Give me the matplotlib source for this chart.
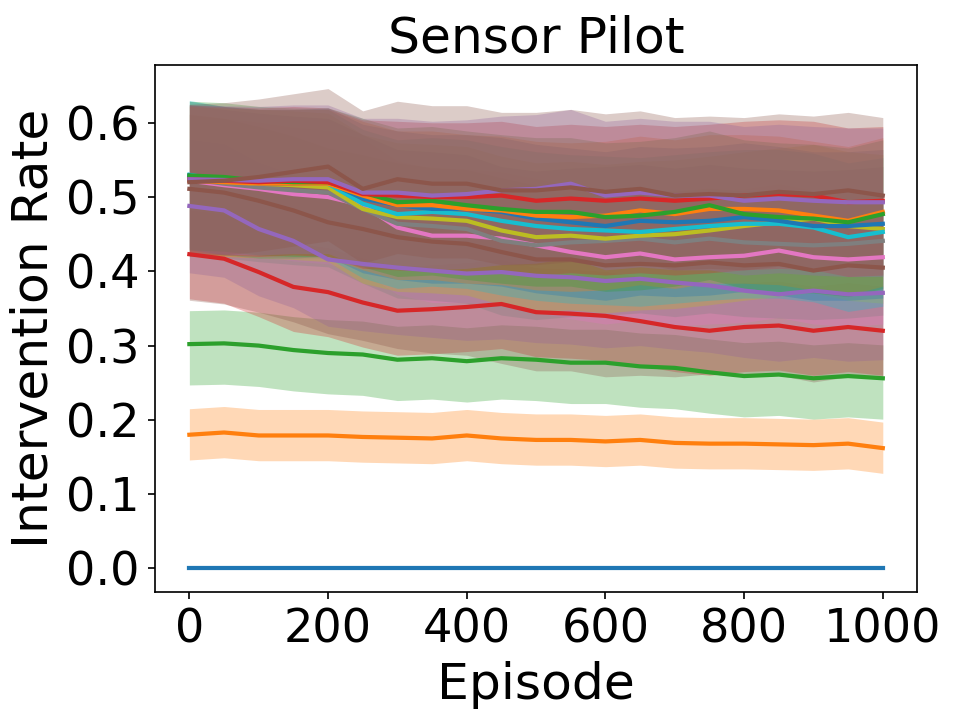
import matplotlib
matplotlib.use('Agg')
import matplotlib.pyplot as plt
import numpy as np

plt.rcParams['font.size'] = 22

episodes = [0, 50, 100, 150, 200, 250, 300, 350, 400, 450, 500,
            550, 600, 650, 700, 750, 800, 850, 900, 950, 1000]

# mean intervention rate per run (tab10 order, cycling)
rate_0 = [0.0] * 21
rate_1 = [0.180, 0.183, 0.179, 0.179, 0.179, 0.177, 0.176, 0.175, 0.179, 0.175, 0.173,
          0.173, 0.171, 0.173, 0.169, 0.168, 0.168, 0.167, 0.166, 0.168, 0.162]
rate_2 = [0.302, 0.303, 0.300, 0.294, 0.290, 0.288, 0.281, 0.283, 0.279, 0.283, 0.281,
          0.277, 0.277, 0.272, 0.270, 0.264, 0.259, 0.261, 0.256, 0.259, 0.256]
rate_3 = [0.423, 0.417, 0.399, 0.379, 0.372, 0.358, 0.347, 0.349, 0.352, 0.356, 0.345,
          0.343, 0.340, 0.333, 0.325, 0.320, 0.325, 0.327, 0.320, 0.325, 0.320]
rate_4 = [0.488, 0.482, 0.457, 0.441, 0.416, 0.410, 0.405, 0.401, 0.397, 0.399, 0.394,
          0.392, 0.387, 0.390, 0.385, 0.381, 0.374, 0.369, 0.374, 0.369, 0.371]
rate_5 = [0.511, 0.506, 0.495, 0.482, 0.466, 0.457, 0.446, 0.440, 0.437, 0.426, 0.416,
          0.416, 0.408, 0.410, 0.408, 0.412, 0.408, 0.410, 0.401, 0.408, 0.405]
rate_6 = [0.522, 0.516, 0.511, 0.504, 0.500, 0.489, 0.459, 0.448, 0.448, 0.444, 0.435,
          0.426, 0.419, 0.424, 0.416, 0.419, 0.421, 0.428, 0.419, 0.416, 0.419]
rate_7 = [0.524, 0.518, 0.513, 0.509, 0.506, 0.484, 0.464, 0.461, 0.457, 0.441, 0.435,
          0.439, 0.441, 0.444, 0.439, 0.444, 0.439, 0.437, 0.435, 0.437, 0.441]
rate_8 = [0.524, 0.521, 0.518, 0.516, 0.513, 0.484, 0.473, 0.471, 0.468, 0.455, 0.446,
          0.448, 0.444, 0.448, 0.450, 0.455, 0.461, 0.466, 0.471, 0.461, 0.457]
rate_9 = [0.530, 0.522, 0.518, 0.518, 0.518, 0.491, 0.477, 0.480, 0.477, 0.468, 0.461,
          0.457, 0.455, 0.453, 0.457, 0.461, 0.464, 0.464, 0.459, 0.446, 0.453]
rate_10 = [0.529, 0.522, 0.518, 0.518, 0.520, 0.498, 0.489, 0.484, 0.484, 0.480, 0.471,
           0.466, 0.461, 0.468, 0.466, 0.468, 0.473, 0.468, 0.461, 0.461, 0.464]
rate_11 = [0.522, 0.520, 0.518, 0.518, 0.518, 0.502, 0.489, 0.489, 0.484, 0.482, 0.475,
           0.473, 0.475, 0.482, 0.477, 0.484, 0.484, 0.482, 0.475, 0.468, 0.480]
rate_12 = [0.529, 0.527, 0.522, 0.520, 0.520, 0.506, 0.493, 0.495, 0.489, 0.484, 0.480,
           0.480, 0.473, 0.475, 0.480, 0.489, 0.477, 0.473, 0.471, 0.466, 0.477]
rate_13 = [0.524, 0.522, 0.520, 0.522, 0.520, 0.504, 0.502, 0.500, 0.500, 0.502, 0.495,
           0.498, 0.495, 0.498, 0.495, 0.498, 0.502, 0.504, 0.502, 0.493, 0.495]
rate_14 = [0.524, 0.523, 0.522, 0.524, 0.524, 0.506, 0.506, 0.502, 0.504, 0.509, 0.511,
           0.518, 0.502, 0.506, 0.502, 0.502, 0.495, 0.498, 0.495, 0.493, 0.493]
rate_15 = [0.520, 0.522, 0.527, 0.534, 0.541, 0.511, 0.524, 0.518, 0.518, 0.509, 0.509,
           0.513, 0.507, 0.511, 0.502, 0.504, 0.502, 0.507, 0.504, 0.509, 0.502]

rates = [rate_0, rate_1, rate_2, rate_3, rate_4, rate_5, rate_6, rate_7,
         rate_8, rate_9, rate_10, rate_11, rate_12, rate_13, rate_14, rate_15]

# spread below / above the mean for each run
band_lo = [0.0, 0.034, 0.055, 0.06, 0.09, 0.15, 0.09, 0.10,
           0.10, 0.10, 0.10, 0.10, 0.10, 0.10, 0.10, 0.10]
band_hi = [0.0, 0.035, 0.045, 0.06, 0.09, 0.10, 0.09, 0.10,
           0.10, 0.10, 0.10, 0.10, 0.10, 0.10, 0.10, 0.105]

fig = plt.figure(figsize=(6.4, 4.8))
ax = fig.add_axes([0.1598, 0.184, 0.788, 0.727])

x = np.array(episodes)
for i, r in enumerate(rates):
    r = np.array(r)
    color = 'C%d' % (i % 10)
    ax.fill_between(x, r - band_lo[i], r + band_hi[i], color=color, alpha=0.3, linewidth=0)
for i, r in enumerate(rates):
    color = 'C%d' % (i % 10)
    ax.plot(x, r, color=color, linewidth=2)

ax.set_xticks([0, 200, 400, 600, 800, 1000])
ax.set_yticks([0.0, 0.1, 0.2, 0.3, 0.4, 0.5, 0.6])
ax.tick_params(labelsize=22)
ax.set_xlabel('Episode', fontsize=24)
ax.set_ylabel('Intervention Rate', fontsize=24)
ax.set_title('Sensor Pilot', fontsize=24)

fig.savefig('out.png', dpi=151.25)
